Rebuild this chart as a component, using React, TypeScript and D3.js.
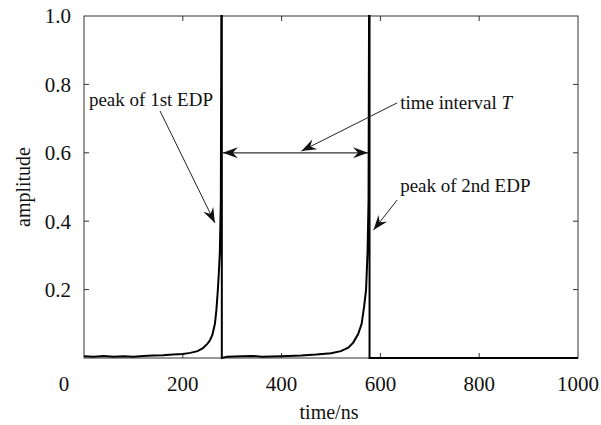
import { useRef, useEffect } from 'react';
import * as d3 from 'd3';

// two echo pulses, time in ns, amplitude normalised
const times = [
  0, 20, 40, 60, 80, 100, 120, 140, 160, 180, 200, 215, 230, 240, 250, 255, 260, 265, 268, 271, 273, 275, 277, 278, 279, 279,
  290, 320, 340, 360, 400, 440, 470, 500, 520, 535, 545, 555, 562, 567, 571, 574, 576, 577, 578, 578, 1000,
];
const amplitudes = [
  0.005, 0.004, 0.006, 0.004, 0.005, 0.004, 0.006, 0.007, 0.008, 0.01, 0.012, 0.015, 0.02, 0.028, 0.042, 0.052, 0.068, 0.1, 0.14, 0.2, 0.25, 0.31, 0.46, 1.0, 1.0, 0,
  0.004, 0.005, 0.006, 0.004, 0.005, 0.007, 0.01, 0.014, 0.02, 0.03, 0.045, 0.07, 0.1, 0.15, 0.2, 0.31, 0.46, 1.0, 1.0, 0, 0,
];

const xTicks = [0, 200, 400, 600, 800, 1000];
const yTicks = [0.2, 0.4, 0.6, 0.8, 1.0];

// annotation arrows: [fromTime, fromAmp, toTime, toAmp]
const arrows = [
  { label: 'peak of 1st EDP', from: [154, 0.722], to: [265, 0.395] },
  { label: 'time interval T', from: [634, 0.746], to: [440, 0.605] },
  { label: 'peak of 2nd EDP', from: [634, 0.462], to: [586, 0.374] },
];

export default function App() {
  const svgRef = useRef<SVGSVGElement>(null);

  useEffect(() => {
    document.body.style.margin = '0';
    if (!svgRef.current) return;
    const width = 601;
    const height = 425;
    const svg = d3.select(svgRef.current);
    svg.selectAll('*').remove();

    const margin = { top: 16, right: 23, bottom: 67, left: 84 };
    const innerWidth = width - margin.left - margin.right;
    const innerHeight = height - margin.top - margin.bottom;
    const font = "'Liberation Serif', 'Times New Roman', serif";

    const x = d3.scaleLinear().domain([0, 1000]).range([0, innerWidth]);
    const y = d3.scaleLinear().domain([0, 1]).range([innerHeight, 0]);

    const defs = svg.append('defs');
    defs
      .append('marker')
      .attr('id', 'head')
      .attr('viewBox', '-16 -6 18 12')
      .attr('refX', 0)
      .attr('refY', 0)
      .attr('markerWidth', 18)
      .attr('markerHeight', 12)
      .attr('markerUnits', 'userSpaceOnUse')
      .attr('orient', 'auto-start-reverse')
      .append('path')
      .attr('d', 'M0,0 L-15,-5.5 L-10,0 L-15,5.5 Z')
      .attr('fill', '#111');

    const g = svg.append('g').attr('transform', `translate(${margin.left},${margin.top})`);

    // frame
    g.append('rect')
      .attr('width', innerWidth)
      .attr('height', innerHeight)
      .attr('fill', 'none')
      .attr('stroke', '#333')
      .attr('stroke-width', 1);

    // inward ticks on all four sides
    const inner = [200, 400, 600, 800];
    g.selectAll('.tb')
      .data(inner)
      .join('line')
      .attr('x1', (d) => x(d))
      .attr('x2', (d) => x(d))
      .attr('y1', innerHeight)
      .attr('y2', innerHeight - 5)
      .attr('stroke', '#333');
    g.selectAll('.tt')
      .data(inner)
      .join('line')
      .attr('x1', (d) => x(d))
      .attr('x2', (d) => x(d))
      .attr('y1', 0)
      .attr('y2', 5)
      .attr('stroke', '#333');
    const innerY = yTicks.filter((d) => d < 1);
    g.selectAll('.tl')
      .data(innerY)
      .join('line')
      .attr('x1', 0)
      .attr('x2', 5)
      .attr('y1', (d) => y(d))
      .attr('y2', (d) => y(d))
      .attr('stroke', '#333');
    g.selectAll('.tr')
      .data(innerY)
      .join('line')
      .attr('x1', innerWidth)
      .attr('x2', innerWidth - 5)
      .attr('y1', (d) => y(d))
      .attr('y2', (d) => y(d))
      .attr('stroke', '#333');

    // tick labels
    g.selectAll('.xl')
      .data(xTicks)
      .join('text')
      .attr('x', (d) => x(d) + (d === 0 ? -20 : 0))
      .attr('y', innerHeight + 33)
      .attr('text-anchor', 'middle')
      .attr('font-family', font)
      .attr('font-size', 21)
      .attr('fill', '#111')
      .text((d) => d);
    g.selectAll('.yl')
      .data(yTicks)
      .join('text')
      .attr('x', -13)
      .attr('y', (d) => y(d))
      .attr('dy', '0.35em')
      .attr('text-anchor', 'end')
      .attr('font-family', font)
      .attr('font-size', 21)
      .attr('fill', '#111')
      .text((d) => d.toFixed(1));

    // axis titles
    g.append('text')
      .attr('x', x(500) - 2)
      .attr('y', innerHeight + 61)
      .attr('text-anchor', 'middle')
      .attr('font-family', font)
      .attr('font-size', 20)
      .attr('fill', '#111')
      .text('time/ns');
    g.append('text')
      .attr('transform', `translate(-61,${y(0.5)}) rotate(-90)`)
      .attr('text-anchor', 'middle')
      .attr('dy', '0.35em')
      .attr('font-family', font)
      .attr('font-size', 20)
      .attr('fill', '#111')
      .text('amplitude');

    // signal
    const pts: [number, number][] = times.map((t, i) => [t, amplitudes[i]]);
    g.append('path')
      .datum(pts)
      .attr('fill', 'none')
      .attr('stroke', '#000')
      .attr('stroke-width', 2)
      .attr('stroke-linejoin', 'miter')
      .attr(
        'd',
        d3
          .line<[number, number]>()
          .x((d) => x(d[0]))
          .y((d) => y(d[1]))
      );

    // double-headed arrow for the interval
    g.append('line')
      .attr('x1', x(281))
      .attr('x2', x(575))
      .attr('y1', y(0.6))
      .attr('y2', y(0.6))
      .attr('stroke', '#333')
      .attr('stroke-width', 1.2)
      .attr('marker-start', 'url(#head)')
      .attr('marker-end', 'url(#head)');

    // annotation arrows
    g.selectAll('.ann')
      .data(arrows)
      .join('line')
      .attr('x1', (d) => x(d.from[0]))
      .attr('y1', (d) => y(d.from[1]))
      .attr('x2', (d) => x(d.to[0]))
      .attr('y2', (d) => y(d.to[1]))
      .attr('stroke', '#222')
      .attr('stroke-width', 1)
      .attr('marker-end', 'url(#head)');

    // annotation labels
    const labels = [
      { t: 10, a: 0.736, text: 'peak of 1st EDP' },
      { t: 640, a: 0.727, text: 'time interval ', italic: 'T' },
      { t: 640, a: 0.485, text: 'peak of 2nd EDP' },
    ];
    labels.forEach((l) => {
      const txt = g
        .append('text')
        .attr('x', x(l.t))
        .attr('y', y(l.a))
        .attr('font-family', font)
        .attr('font-size', 19)
        .attr('fill', '#111')
        .text(l.text);
      if (l.italic) txt.append('tspan').attr('font-style', 'italic').text(l.italic);
    });
  }, []);

  return <svg ref={svgRef} width={601} height={425} style={{ display: 'block', background: '#fff' }} />;
}
